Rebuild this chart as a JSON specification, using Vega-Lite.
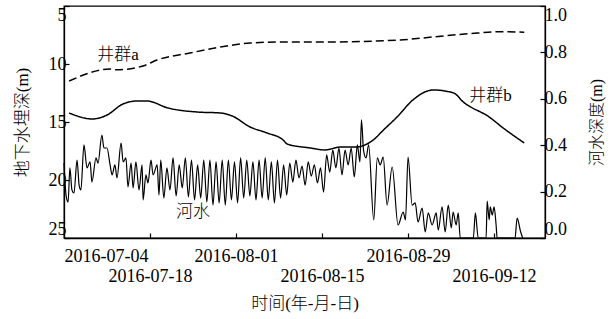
{
  "$schema": "https://vega.github.io/schema/vega-lite/v6.json",
  "autosize": "none",
  "width": 481,
  "height": 232,
  "padding": {"left": 64, "top": 6, "right": 67, "bottom": 81},
  "background": "white",
  "config": {
    "view": {"stroke": "black", "strokeWidth": 1.3},
    "font": "'Liberation Serif', 'Noto Sans CJK SC', serif",
    "axis": {
      "grid": false,
      "labelFont": "'Liberation Serif', serif",
      "labelFontSize": 18,
      "labelColor": "black",
      "domainColor": "black",
      "domainWidth": 1.3,
      "tickColor": "black",
      "tickWidth": 1.2,
      "titleFont": "'Liberation Serif', 'Noto Sans CJK SC', serif",
      "titleFontWeight": 300,
      "titleColor": "black"
    }
  },
  "encoding": {
    "x": {
      "field": "date",
      "type": "temporal",
      "scale": {"domain": [{"year": 2016, "month": 7, "date": 4}, {"year": 2016, "month": 9, "date": 20, "hours": 7}]},
      "axis": {
        "values": [
          {"year": 2016, "month": 7, "date": 4},
          {"year": 2016, "month": 7, "date": 18},
          {"year": 2016, "month": 8, "date": 1},
          {"year": 2016, "month": 8, "date": 15},
          {"year": 2016, "month": 8, "date": 29},
          {"year": 2016, "month": 9, "date": 12}
        ],
        "format": "%Y-%m-%d",
        "labelExpr": "round((time(datum.value) - time(datetime(2016,6,4))) / 86400000 / 14) % 2 == 1 ? ['', datum.label] : datum.label",
        "labelLineHeight": 20,
        "tickSize": -5,
        "labelPadding": 14,
        "labelOverlap": false,
        "labelBaseline": "top",
        "title": "时间(年-月-日)",
        "titleFontSize": 17,
        "titleY": 65,
        "titleBaseline": "middle",
        "encode": {
          "labels": {
            "update": {
              "dx": {"signal": "time(datum.value) < time(datetime(2016,6,5)) ? 33 : 0"}
            }
          }
        }
      }
    }
  },
  "layer": [
    {
      "encoding": {
        "y": {
          "field": "depth",
          "type": "quantitative",
          "scale": {"domain": [5, 25], "reverse": true, "nice": false, "zero": false},
          "axis": {
            "values": [5, 10, 15, 20, 25],
            "tickSize": -5,
            "labelPadding": 3,
            "labelFlush": true,
            "title": "地下水埋深(m)",
            "titleFontSize": 17,
            "titleAngle": -90,
            "titleX": -42,
            "titleY": 116,
            "titleAlign": "center",
            "titleBaseline": "middle"
          }
        }
      },
      "layer": [
        {
          "data": {
            "values": [
              {"date": "2016-07-04T20:00", "depth": 11.47, "series": "井群a"},
              {"date": "2016-07-11T12:00", "depth": 10.43, "series": "井群a"},
              {"date": "2016-07-12T14:00", "depth": 10.5, "series": "井群a"},
              {"date": "2016-07-16T21:00", "depth": 10.17, "series": "井群a"},
              {"date": "2016-07-19T03:00", "depth": 9.66, "series": "井群a"},
              {"date": "2016-07-24T12:00", "depth": 9.05, "series": "井群a"},
              {"date": "2016-07-30T12:00", "depth": 8.45, "series": "井群a"},
              {"date": "2016-08-03T07:00", "depth": 8.19, "series": "井群a"},
              {"date": "2016-08-08T16:00", "depth": 8.1, "series": "井群a"},
              {"date": "2016-08-15T20:00", "depth": 8.1, "series": "井群a"},
              {"date": "2016-08-27T17:00", "depth": 7.93, "series": "井群a"},
              {"date": "2016-09-02T02:00", "depth": 7.67, "series": "井群a"},
              {"date": "2016-09-09T07:00", "depth": 7.33, "series": "井群a"},
              {"date": "2016-09-13T03:00", "depth": 7.22, "series": "井群a"},
              {"date": "2016-09-16T22:00", "depth": 7.26, "series": "井群a"},
              {"date": "2016-07-04T20:00", "depth": 14.22, "series": "井群b"},
              {"date": "2016-07-08T13:00", "depth": 14.74, "series": "井群b"},
              {"date": "2016-07-11T00:00", "depth": 14.4, "series": "井群b"},
              {"date": "2016-07-13T14:00", "depth": 13.45, "series": "井群b"},
              {"date": "2016-07-15T22:00", "depth": 13.19, "series": "井群b"},
              {"date": "2016-07-17T12:00", "depth": 13.19, "series": "井群b"},
              {"date": "2016-07-20T22:00", "depth": 13.79, "series": "井群b"},
              {"date": "2016-07-25T16:00", "depth": 14.14, "series": "井群b"},
              {"date": "2016-07-29T10:00", "depth": 14.22, "series": "井群b"},
              {"date": "2016-07-31T09:00", "depth": 14.48, "series": "井群b"},
              {"date": "2016-08-03T07:00", "depth": 15.43, "series": "井群b"},
              {"date": "2016-08-06T02:00", "depth": 15.95, "series": "井群b"},
              {"date": "2016-08-08T16:00", "depth": 16.55, "series": "井群b"},
              {"date": "2016-08-09T08:00", "depth": 16.9, "series": "井群b"},
              {"date": "2016-08-13T02:00", "depth": 17.24, "series": "井群b"},
              {"date": "2016-08-15T12:00", "depth": 17.41, "series": "井群b"},
              {"date": "2016-08-18T00:00", "depth": 17.16, "series": "井群b"},
              {"date": "2016-08-20T10:00", "depth": 17.16, "series": "井群b"},
              {"date": "2016-08-23T08:00", "depth": 16.55, "series": "井群b"},
              {"date": "2016-08-25T00:00", "depth": 15.69, "series": "井群b"},
              {"date": "2016-08-27T05:00", "depth": 14.57, "series": "井群b"},
              {"date": "2016-08-29T19:00", "depth": 13.1, "series": "井群b"},
              {"date": "2016-09-02T02:00", "depth": 12.24, "series": "井群b"},
              {"date": "2016-09-05T10:00", "depth": 12.5, "series": "井群b"},
              {"date": "2016-09-07T00:00", "depth": 13.28, "series": "井群b"},
              {"date": "2016-09-11T05:00", "depth": 14.57, "series": "井群b"},
              {"date": "2016-09-13T12:00", "depth": 15.52, "series": "井群b"},
              {"date": "2016-09-16T22:00", "depth": 16.81, "series": "井群b"}
            ]
          },
          "mark": {"type": "line", "color": "black", "strokeWidth": 1.5, "interpolate": "monotone"},
          "encoding": {
            "detail": {"field": "series", "type": "nominal"},
            "strokeDash": {
              "field": "series",
              "type": "nominal",
              "scale": {"domain": ["井群a", "井群b"], "range": [[8, 4], [1, 0]]},
              "legend": null
            }
          }
        },
        {
          "data": {
            "values": [
              {"date": "2016-07-12T19:00", "depth": 9.22, "label": "井群a"},
              {"date": "2016-09-11T10:00", "depth": 12.76, "label": "井群b"},
              {"date": "2016-07-25T00:00", "depth": 22.76, "label": "河水"}
            ]
          },
          "mark": {"type": "text", "fontSize": 17, "fontWeight": 300, "color": "black", "align": "center", "baseline": "middle", "font": "'Liberation Serif', 'Noto Sans CJK SC', serif"},
          "encoding": {"text": {"field": "label", "type": "nominal"}}
        }
      ]
    },
    {
      "data": {
        "values": [
          {"date": "2016-07-04T00:00", "river": 0.323},
          {"date": "2016-07-04T08:00", "river": 0.185},
          {"date": "2016-07-04T16:00", "river": 0.155},
          {"date": "2016-07-04T23:00", "river": 0.302},
          {"date": "2016-07-05T07:00", "river": 0.207},
          {"date": "2016-07-05T15:00", "river": 0.194},
          {"date": "2016-07-06T03:00", "river": 0.336},
          {"date": "2016-07-06T11:00", "river": 0.228},
          {"date": "2016-07-06T18:00", "river": 0.207},
          {"date": "2016-07-07T06:00", "river": 0.401},
          {"date": "2016-07-07T18:00", "river": 0.302},
          {"date": "2016-07-08T06:00", "river": 0.328},
          {"date": "2016-07-08T13:00", "river": 0.241},
          {"date": "2016-07-09T05:00", "river": 0.345},
          {"date": "2016-07-09T13:00", "river": 0.323},
          {"date": "2016-07-10T04:00", "river": 0.444},
          {"date": "2016-07-10T12:00", "river": 0.388},
          {"date": "2016-07-11T00:00", "river": 0.388},
          {"date": "2016-07-11T12:00", "river": 0.315},
          {"date": "2016-07-11T20:00", "river": 0.272},
          {"date": "2016-07-12T07:00", "river": 0.315},
          {"date": "2016-07-12T15:00", "river": 0.259},
          {"date": "2016-07-13T07:00", "river": 0.409},
          {"date": "2016-07-13T15:00", "river": 0.328},
          {"date": "2016-07-14T02:00", "river": 0.345},
          {"date": "2016-07-14T10:00", "river": 0.22},
          {"date": "2016-07-14T22:00", "river": 0.323},
          {"date": "2016-07-15T06:00", "river": 0.216},
          {"date": "2016-07-15T17:00", "river": 0.328},
          {"date": "2016-07-16T05:00", "river": 0.207},
          {"date": "2016-07-16T17:00", "river": 0.315},
          {"date": "2016-07-16T21:00", "river": 0.164},
          {"date": "2016-07-17T08:00", "river": 0.272},
          {"date": "2016-07-17T16:00", "river": 0.237},
          {"date": "2016-07-18T04:00", "river": 0.336},
          {"date": "2016-07-18T12:00", "river": 0.272},
          {"date": "2016-07-19T04:00", "river": 0.315},
          {"date": "2016-07-19T11:00", "river": 0.185},
          {"date": "2016-07-19T18:00", "river": 0.336},
          {"date": "2016-07-20T06:00", "river": 0.172},
          {"date": "2016-07-20T18:00", "river": 0.302},
          {"date": "2016-07-21T06:00", "river": 0.207},
          {"date": "2016-07-21T18:00", "river": 0.345},
          {"date": "2016-07-22T06:00", "river": 0.181},
          {"date": "2016-07-22T18:00", "river": 0.315},
          {"date": "2016-07-23T06:00", "river": 0.216},
          {"date": "2016-07-23T18:00", "river": 0.345},
          {"date": "2016-07-24T06:00", "river": 0.177},
          {"date": "2016-07-24T18:00", "river": 0.336},
          {"date": "2016-07-25T06:00", "river": 0.164},
          {"date": "2016-07-25T18:00", "river": 0.315},
          {"date": "2016-07-26T06:00", "river": 0.172},
          {"date": "2016-07-26T18:00", "river": 0.336},
          {"date": "2016-07-27T06:00", "river": 0.155},
          {"date": "2016-07-27T18:00", "river": 0.336},
          {"date": "2016-07-28T06:00", "river": 0.142},
          {"date": "2016-07-28T18:00", "river": 0.328},
          {"date": "2016-07-29T06:00", "river": 0.151},
          {"date": "2016-07-29T18:00", "river": 0.336},
          {"date": "2016-07-30T06:00", "river": 0.142},
          {"date": "2016-07-30T18:00", "river": 0.336},
          {"date": "2016-07-31T06:00", "river": 0.164},
          {"date": "2016-07-31T18:00", "river": 0.328},
          {"date": "2016-08-01T06:00", "river": 0.151},
          {"date": "2016-08-01T18:00", "river": 0.345},
          {"date": "2016-08-02T06:00", "river": 0.172},
          {"date": "2016-08-02T18:00", "river": 0.336},
          {"date": "2016-08-03T06:00", "river": 0.181},
          {"date": "2016-08-03T18:00", "river": 0.328},
          {"date": "2016-08-04T06:00", "river": 0.164},
          {"date": "2016-08-04T18:00", "river": 0.336},
          {"date": "2016-08-05T06:00", "river": 0.172},
          {"date": "2016-08-05T18:00", "river": 0.345},
          {"date": "2016-08-06T06:00", "river": 0.164},
          {"date": "2016-08-06T18:00", "river": 0.328},
          {"date": "2016-08-07T06:00", "river": 0.151},
          {"date": "2016-08-07T18:00", "river": 0.336},
          {"date": "2016-08-08T06:00", "river": 0.172},
          {"date": "2016-08-08T18:00", "river": 0.315},
          {"date": "2016-08-09T06:00", "river": 0.185},
          {"date": "2016-08-09T18:00", "river": 0.323},
          {"date": "2016-08-10T06:00", "river": 0.241},
          {"date": "2016-08-10T18:00", "river": 0.336},
          {"date": "2016-08-11T06:00", "river": 0.259},
          {"date": "2016-08-11T18:00", "river": 0.31},
          {"date": "2016-08-12T06:00", "river": 0.228},
          {"date": "2016-08-12T18:00", "river": 0.328},
          {"date": "2016-08-13T06:00", "river": 0.267},
          {"date": "2016-08-13T18:00", "river": 0.315},
          {"date": "2016-08-14T06:00", "river": 0.237},
          {"date": "2016-08-14T18:00", "river": 0.302},
          {"date": "2016-08-15T06:00", "river": 0.198},
          {"date": "2016-08-15T18:00", "river": 0.358},
          {"date": "2016-08-16T06:00", "river": 0.284},
          {"date": "2016-08-16T18:00", "river": 0.379},
          {"date": "2016-08-17T06:00", "river": 0.302},
          {"date": "2016-08-17T18:00", "river": 0.388},
          {"date": "2016-08-18T06:00", "river": 0.272},
          {"date": "2016-08-18T18:00", "river": 0.379},
          {"date": "2016-08-19T06:00", "river": 0.315},
          {"date": "2016-08-19T18:00", "river": 0.388},
          {"date": "2016-08-20T06:00", "river": 0.263},
          {"date": "2016-08-20T18:00", "river": 0.401},
          {"date": "2016-08-21T04:00", "river": 0.328},
          {"date": "2016-08-21T10:00", "river": 0.509},
          {"date": "2016-08-21T18:00", "river": 0.379},
          {"date": "2016-08-22T04:00", "river": 0.345},
          {"date": "2016-08-22T14:00", "river": 0.401},
          {"date": "2016-08-23T10:00", "river": 0.078},
          {"date": "2016-08-24T00:00", "river": 0.345},
          {"date": "2016-08-24T11:00", "river": 0.315},
          {"date": "2016-08-24T23:00", "river": 0.349},
          {"date": "2016-08-25T14:00", "river": 0.142},
          {"date": "2016-08-26T10:00", "river": 0.306},
          {"date": "2016-08-27T09:00", "river": 0.056},
          {"date": "2016-08-28T05:00", "river": 0.112},
          {"date": "2016-08-28T14:00", "river": 0.078},
          {"date": "2016-08-29T00:00", "river": 0.349},
          {"date": "2016-08-29T16:00", "river": 0.142},
          {"date": "2016-08-30T04:00", "river": 0.151},
          {"date": "2016-08-30T15:00", "river": 0.069},
          {"date": "2016-08-31T07:00", "river": 0.129},
          {"date": "2016-08-31T19:00", "river": 0.026},
          {"date": "2016-09-01T07:00", "river": 0.108},
          {"date": "2016-09-01T22:00", "river": 0.056},
          {"date": "2016-09-02T14:00", "river": 0.108},
          {"date": "2016-09-02T22:00", "river": 0.034},
          {"date": "2016-09-03T13:00", "river": 0.134},
          {"date": "2016-09-04T01:00", "river": 0.026},
          {"date": "2016-09-04T13:00", "river": 0.142},
          {"date": "2016-09-05T01:00", "river": 0.043},
          {"date": "2016-09-05T08:00", "river": 0.112},
          {"date": "2016-09-05T20:00", "river": 0.056},
          {"date": "2016-09-06T04:00", "river": 0.108},
          {"date": "2016-09-06T12:00", "river": 0.0},
          {"date": "2016-09-08T15:00", "river": 0.0},
          {"date": "2016-09-08T23:00", "river": 0.108},
          {"date": "2016-09-09T10:00", "river": 0.0},
          {"date": "2016-09-10T17:00", "river": 0.0},
          {"date": "2016-09-10T21:00", "river": 0.159},
          {"date": "2016-09-11T05:00", "river": 0.078},
          {"date": "2016-09-11T09:00", "river": 0.134},
          {"date": "2016-09-11T17:00", "river": 0.099},
          {"date": "2016-09-12T00:00", "river": 0.134},
          {"date": "2016-09-12T08:00", "river": 0.056},
          {"date": "2016-09-12T12:00", "river": 0.0},
          {"date": "2016-09-15T10:00", "river": 0.0},
          {"date": "2016-09-15T18:00", "river": 0.086},
          {"date": "2016-09-16T08:00", "river": 0.026},
          {"date": "2016-09-16T16:00", "river": 0.0}
        ]
      },
      "mark": {"type": "line", "color": "black", "strokeWidth": 1.2, "interpolate": "monotone"},
      "encoding": {
        "y": {
          "field": "river",
          "type": "quantitative",
          "scale": {"domain": [0, 1], "nice": false},
          "axis": {
            "orient": "right",
            "values": [0, 0.2, 0.4, 0.6, 0.8, 1.0],
            "format": ".1f",
            "tickSize": -5,
            "labelPadding": 4,
            "labelFlush": true,
            "title": "河水深度(m)",
            "titleFontSize": 16,
            "titleAngle": -90,
            "titleX": 51,
            "titleY": 116,
            "titleAlign": "center",
            "titleBaseline": "middle"
          }
        }
      }
    }
  ],
  "resolve": {"scale": {"y": "independent"}}
}
